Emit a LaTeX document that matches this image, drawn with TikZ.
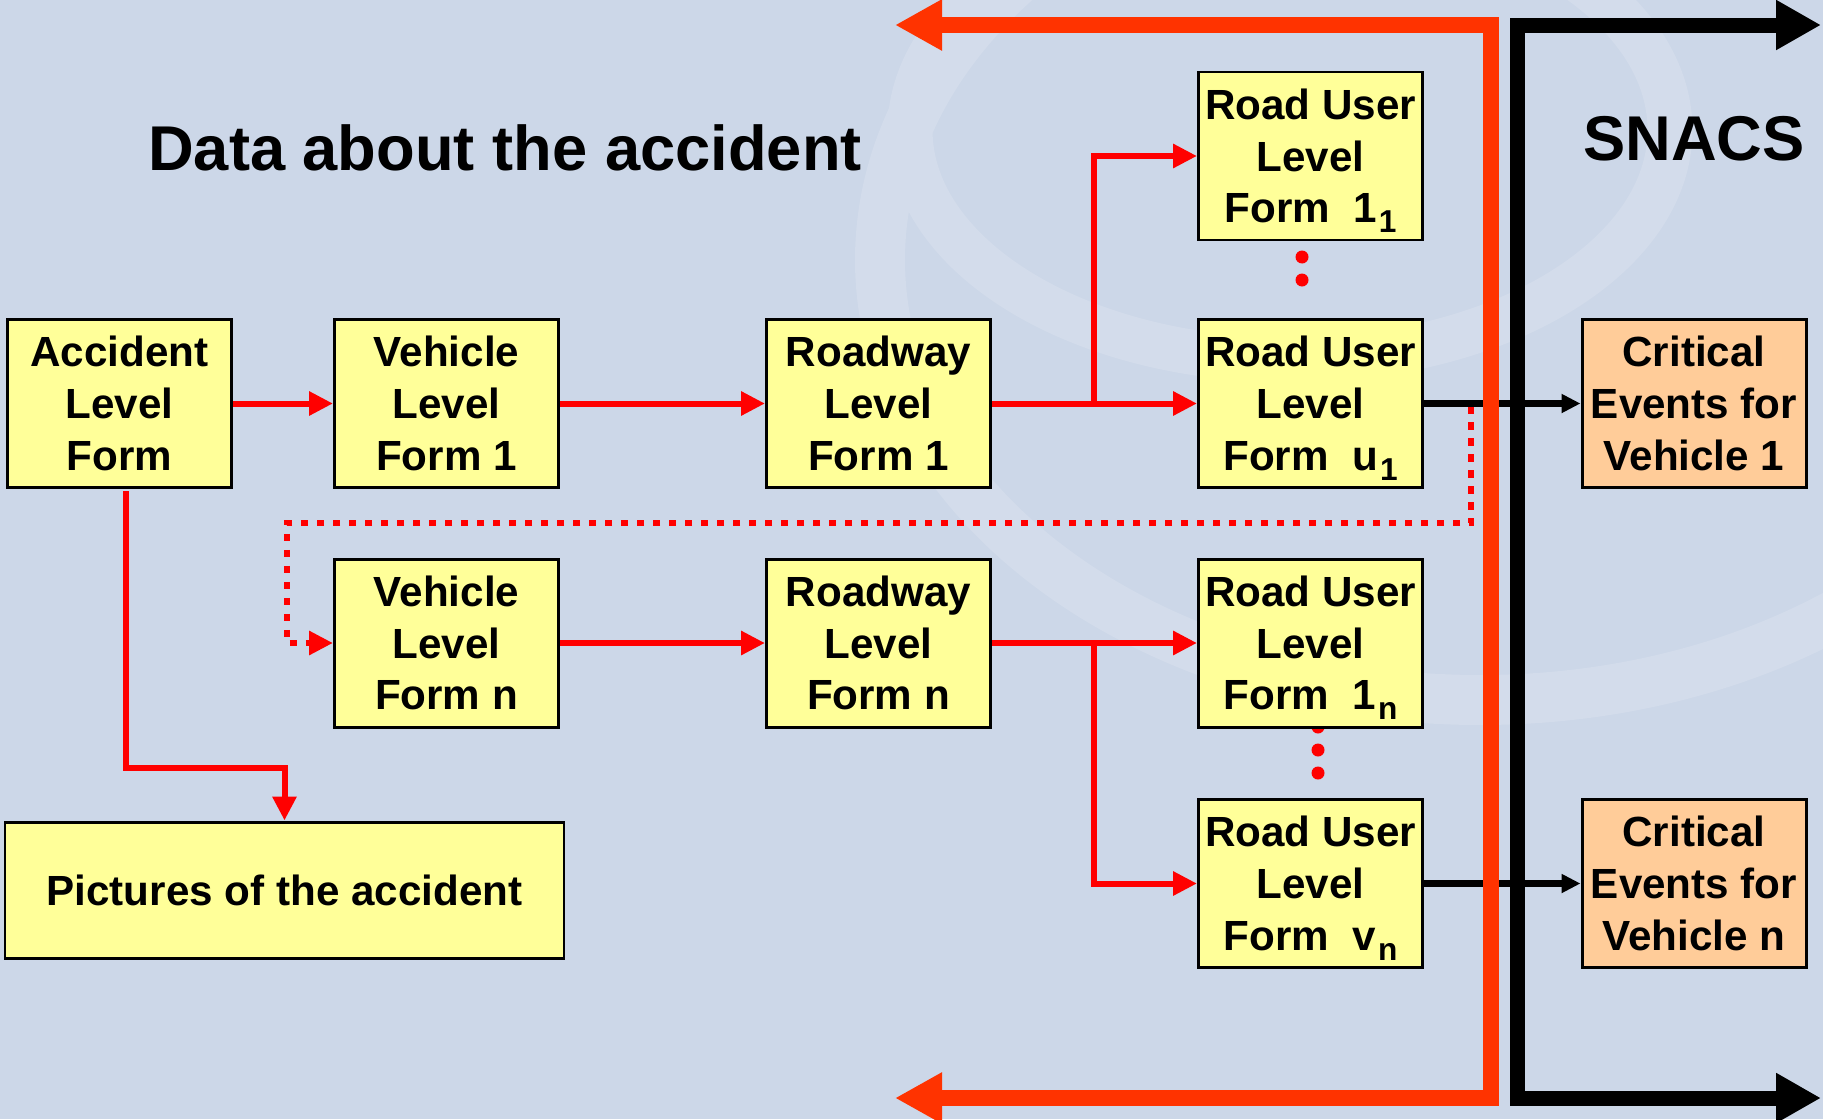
\documentclass[tikz,border=0pt]{standalone}
\usepackage{fontspec}
\setmainfont{Liberation Sans}
\usepackage{tikz}
\usetikzlibrary{arrows.meta,calc}
\definecolor{bg}{HTML}{CCD7E8}
\definecolor{logotint}{HTML}{D3DCEB}
\definecolor{formfill}{HTML}{FFFF99}
\definecolor{critfill}{HTML}{FFCC99}
\definecolor{flow}{HTML}{FF0000}
\definecolor{bus}{HTML}{FF3300}
\newcommand{\lowidx}[1]{\raisebox{-2.8pt}[0pt][0pt]{\hspace{0.6pt}\fontsize{9}{9}\selectfont #1}}
\tikzset{
  form/.style={draw=black, line width=0.85pt, fill=formfill, align=center, inner sep=0pt,
    minimum width=22.4mm, minimum height=16.8mm, font=\fontsize{12}{14.7}\selectfont\bfseries},
  crit/.style={form, fill=critfill},
  flowline/.style={draw=flow, line width=0.6mm, -{Triangle[length=2.4mm,width=2.3mm]}},
  dotflow/.style={draw=flow, line width=0.65mm, dash pattern=on 0.75mm off 0.85mm,
    -{Triangle[length=2.4mm,width=2.3mm]}},
  outline/.style={draw=black, line width=0.65mm, -{Triangle[length=1.9mm,width=1.8mm]}},
  busred/.style={draw=bus, line width=1.6mm,
    {Triangle[length=4.7mm,width=4.8mm]}-{Triangle[length=4.7mm,width=4.8mm]}},
  busblack/.style={draw=black, line width=1.5mm,
    {Triangle[length=4.5mm,width=4.7mm]}-{Triangle[length=4.5mm,width=4.7mm]}},
  dot/.style={circle, fill=flow, inner sep=0pt, minimum size=1.3mm},
  heading/.style={font=\fontsize{18}{22}\selectfont\bfseries},
}

\begin{document}
\begin{tikzpicture}[x=0.1mm, y=-0.1mm]
  \useasboundingbox (0,0) rectangle (1823,1119);
  \fill[bg] (0,0) rectangle (1823,1119);
  % faint logo in the background
  \begin{scope}
    \clip (0,0) rectangle (1823,1119);
    \draw[logotint, line width=5mm] (1480,260) ellipse [x radius=600, y radius=440];
    \draw[logotint, line width=4.5mm] (1290,130) ellipse [x radius=380, y radius=230];
  \end{scope}

  \node[heading] (title) at (505,148) {Data about the accident};
  \node[heading] (snacs) at (1694,139) {SNACS};

  % dots between the road user forms
  \foreach \y in {257,280} \node[dot] at (1302,\y) {};
  \foreach \y in {727,750,773} \node[dot] at (1318,\y) {};

  \node[form] (acc)  at (119.5,403.5) {Accident\\Level\\Form};
  \node[form] (vh1)  at (446.5,403.5) {Vehicle\\Level\\Form 1};
  \node[form] (rw1)  at (878.5,403.5) {Roadway\\Level\\Form 1};
  \node[form] (ru11) at (1310.5,156)  {Road User\\Level\\Form\ \ 1\lowidx{1}};
  \node[form] (ruu1) at (1310.5,403.5) {Road User\\Level\\Form\ \ u\lowidx{1}};
  \node[form] (vhn)  at (446.5,643)   {Vehicle\\Level\\Form n};
  \node[form] (rwn)  at (878.5,643)   {Roadway\\Level\\Form n};
  \node[form] (ru1n) at (1310.5,643)  {Road User\\Level\\Form\ \ 1\lowidx{n}};
  \node[form] (ruvn) at (1310.5,883.5) {Road User\\Level\\Form\ \ v\lowidx{n}};
  \node[form, minimum width=55.9mm, minimum height=13.6mm] (pic) at (284.5,890) {Pictures of the accident};
  \node[crit] (crit1) at (1694,403.5) {Critical\\Events for\\Vehicle 1};
  \node[crit] (critn) at (1694,883.5) {Critical\\Events for\\Vehicle n};

  \coordinate (loop) at (1471,406);

  \draw[flowline] (acc) -- (vh1);
  \draw[flowline] (vh1) -- (rw1);
  \draw[flowline] (rw1) -- (ruu1);
  \draw[flowline] (rw1.east) -- ++(102,0) |- (ru11.west);
  \draw[flowline] (vhn) -- (rwn);
  \draw[flowline] (rwn) -- (ru1n);
  \draw[flowline] (rwn.east) -- ++(102,0) |- (ruvn.west);
  \draw[flowline] ($(acc.south)+(6,2)$) -- ++(0,277) -| (pic.north);
  \draw[dotflow] (loop) |- (287,523) |- (vhn.west);
  \draw[outline] (ruu1) -- (crit1);
  \draw[outline] (ruvn) -- (critn);

  \coordinate (rtop) at (895,25);
  \coordinate (rbot) at (895,1098);
  \coordinate (btop) at (1821,25);
  \coordinate (bbot) at (1821,1098);
  \draw[busred] (rtop) -- (1491,25) -- (1491,1098) -- (rbot);
  \draw[busblack] (btop) -- (1517.5,25) -- (1517.5,1098) -- (bbot);
\end{tikzpicture}
\end{document}
